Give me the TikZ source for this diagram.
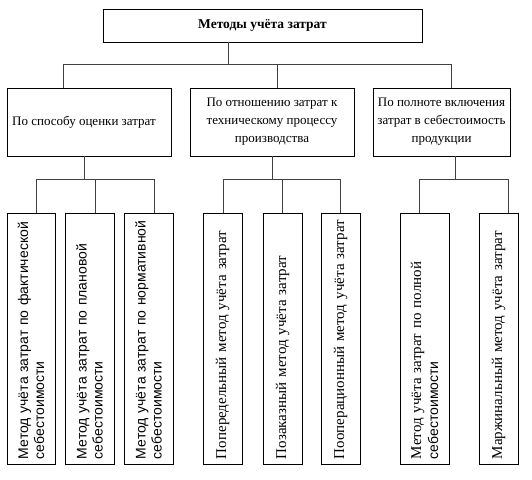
\documentclass[tikz,border=0pt]{standalone}
\usepackage{fontspec}
\setmainfont{Liberation Serif}
\setsansfont{Liberation Sans}
\usetikzlibrary{positioning}

\begin{document}
\begin{tikzpicture}[
  x=1pt, y=-1pt,
  font=\fontsize{13}{18}\selectfont,
  titlebox/.style={draw, line width=0.8pt, minimum width=319pt, minimum height=33pt, inner sep=0pt, font=\fontsize{13.5}{16}\selectfont\bfseries},
  catbox/.style={draw, line width=0.8pt, minimum height=68pt, inner sep=2pt, align=center},
  methbox/.style={draw, line width=0.8pt, rotate=90, minimum width=251pt, inner xsep=5pt, inner ysep=0pt, text width=241pt, align=left, font=\fontsize{15}{17}\selectfont},
  sansbox/.style={methbox, font=\sffamily\fontsize{14}{16}\selectfont},
  edge/.style={line width=0.8pt, draw=black!75}
]
\useasboundingbox (0,0) rectangle (532,479);

% ================= Top =================
\node[titlebox] (title) at (262.5,25.5) {Методы учёта затрат};

% ================= Groups =================
\node[catbox, minimum width=164pt] (cat1) at (89,122) {По способу оценки затрат\hspace{10pt}};
\node[catbox, minimum width=164pt] (cat2) at (272,122) {По отношению затрат к\\техническому процессу\\производства};
\node[catbox, minimum width=137pt] (cat3) at (441.5,122) {По полноте включения\\затрат в себестоимость\\продукции};

% ================= Methods =================
\node[sansbox, minimum height=48pt] (ma) at (31,338.5) {Метод учёта затрат по фактической\\себестоимости};
\node[sansbox, minimum height=49pt] (mb) at (89.5,338.5) {Метод учёта затрат по плановой\\себестоимости};
\node[sansbox, minimum height=49pt] (mc) at (148.5,338.5) {Метод учёта затрат по нормативной\\себестоимости};
\node[methbox, minimum height=39pt] (md) at (222.5,338.5) {Попередельный метод учёта затрат};
\node[methbox, minimum height=39pt] (me) at (282.5,338.5) {Позаказный метод учёта затрат};
\node[methbox, minimum height=39pt] (mf) at (340.5,338.5) {Пооперационный метод учёта затрат};
\node[methbox, minimum height=49pt] (mg) at (424.5,338.5) {Метод учёта затрат по полной\\{\sffamily\fontsize{14}{17}\selectfont себестоимости}};
\node[methbox, minimum height=39pt] (mh) at (498.5,338.5) {Маржинальный метод учёта затрат};

% ================= Connectors =================
\coordinate (j0) at (228,64);
\coordinate (j1) at (84,179);
\coordinate (j2) at (272,179);
\coordinate (j3) at (455,179);

\draw[edge] (title.south -| j0) -- (j0);
\foreach \n/\x in {cat1/63, cat2/277, cat3/451}
  \draw[edge] (j0) -| (\n.north -| \x,0);

\draw[edge] (cat1.south -| j1) -- (j1);
\foreach \n/\x in {ma/36, mb/95, mc/154}
  \draw[edge] (j1) -| (\n.east -| \x,0);

\draw[edge] (cat2.south -| j2) -- (j2);
\foreach \n/\x in {md/223, me/282, mf/340}
  \draw[edge] (j2) -| (\n.east -| \x,0);

\draw[edge] (cat3.south -| j3) -- (j3);
\foreach \n/\x in {mg/419, mh/508}
  \draw[edge] (j3) -| (\n.east -| \x,0);

\end{tikzpicture}
\end{document}
